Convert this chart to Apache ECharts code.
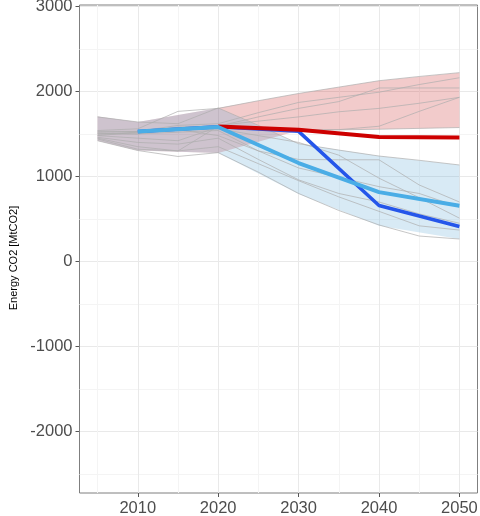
<!DOCTYPE html>
<html>
<head>
<meta charset="utf-8">
<script src="https://cdn.jsdelivr.net/npm/echarts@6/dist/echarts.min.js"></script>
<style>
  html, body { margin: 0; padding: 0; background: #fff; }
  #chart { width: 480px; height: 516px; }
</style>
</head>
<body>
<div id="chart"></div>
<script>
// axis ticks
const xTicks = [2010, 2020, 2030, 2040, 2050];
const xMinor = [2005, 2015, 2025, 2035, 2045];
const yTicks = [-2000, -1000, 0, 1000, 2000, 3000];
const yMinor = [-2500, -1500, -500, 500, 1500, 2500];

// scenario ranges (ribbons)
const ribbonYears = [2005, 2010, 2020, 2030, 2040, 2050];
const redLow = [1420, 1305, 1275, 1540, 1555, 1575];
const redHigh = [1705, 1640, 1805, 1975, 2125, 2220];
const blueLow = [1420, 1305, 1275, 795, 420, 265];
const blueHigh = [1705, 1640, 1805, 1385, 1240, 1135];

// individual scenarios (thin grey lines)
const years = [2005, 2010, 2015, 2020, 2025, 2030, 2035, 2040, 2045, 2050];
const greyLines = [
  [1540, 1560, 1765, 1800, 1890, 1975, 2050, 2125, 2175, 2220],
  [1520, 1530, 1600, 1620, 1750, 1870, 1930, 1990, 2080, 2160],
  [1500, 1500, 1560, 1600, 1650, 1700, 1760, 1800, 1860, 1930],
  [1480, 1520, 1580, 1590, 1700, 1800, 1880, 2040, 2040, 2040],
  [1480, 1450, 1420, 1580, 1565, 1545, 1550, 1590, 1765, 1930],
  [1440, 1320, 1300, 1590, 1560, 1540, 1548, 1555, 1565, 1575],
  [1420, 1305, 1235, 1280, 1050, 800, 600, 430, 300, 265],
  [1450, 1350, 1300, 1350, 1150, 950, 760, 590, 420, 370],
  [1500, 1520, 1540, 1560, 1480, 1400, 1250, 980, 750, 510],
  [1700, 1640, 1620, 1805, 1600, 1385, 1310, 1240, 1190, 1135],
  [1510, 1500, 1520, 1540, 1300, 1100, 990, 880, 800, 640],
  [1530, 1530, 1550, 1480, 1300, 1200, 1196, 1196, 900, 700],
  [1460, 1400, 1380, 1450, 1200, 960, 800, 700, 560, 450]
];

// highlighted scenarios
const redYears = [2020, 2030, 2040, 2050];
const redLine = [1588, 1549, 1463, 1459];
const blueYears = [2010, 2020, 2030, 2040, 2050];
const lightBlueLine = [1529, 1581, 1158, 816, 655];
const darkBlueLine = [1529, 1585, 1530, 659, 412];

const pairs = (xs, ys) => xs.map((x, i) => [x, ys[i]]);

const font = "'Liberation Sans', Arial, sans-serif";
const chart = echarts.init(document.getElementById("chart"), null, { renderer: "canvas" });

const series = [];

// ribbon = polygon between lower and upper bound, placed through the axes
function ribbon(lo, hi, color) {
  const rows = ribbonYears.map((x, i) => [x, lo[i], hi[i]]);
  series.push({
    type: "custom", silent: true, z: 1,
    data: rows,
    encode: { x: 0, y: [1, 2] },
    renderItem: (params, api) => {
      if (params.dataIndex !== 0) return;
      const pts = [];
      rows.forEach((r) => pts.push(api.coord([r[0], r[1]])));
      rows.slice().reverse().forEach((r) => pts.push(api.coord([r[0], r[2]])));
      return { type: "polygon", shape: { points: pts }, style: { fill: color } };
    }
  });
}
ribbon(redLow, redHigh, "rgba(200,30,30,0.23)");
ribbon(blueLow, blueHigh, "rgba(100,170,217,0.25)");

greyLines.forEach((g) => {
  series.push({
    type: "line", data: pairs(years, g), symbol: "none", silent: true, z: 2,
    lineStyle: { color: "#adadad", width: 0.7 }
  });
});

series.push({
  type: "line", data: pairs(blueYears, darkBlueLine), symbol: "none", z: 3,
  lineStyle: { color: "#2556ea", width: 3.5 }
});
series.push({
  type: "line", data: pairs(redYears, redLine), symbol: "none", z: 4,
  lineStyle: { color: "#cd0000", width: 4 }
});
series.push({
  type: "line", data: pairs(blueYears, lightBlueLine), symbol: "none", z: 5,
  lineStyle: { color: "#4aade6", width: 4 }
});

const labelStyle = { color: "#4d4d4d", fontSize: 16.5, fontFamily: font, formatter: (v) => String(v) };
const noLine = { show: false, onZero: false };
const xMin = 2002.75, xMax = 2052.25, yMin = -2720, yMax = 3015;

const option = {
  animation: false,
  grid: {
    left: 79.5, right: 2.5, top: 5, bottom: 23,
    show: true, borderColor: "#7f7f7f", borderWidth: 1,
    containLabel: false, outerBoundsMode: "none"
  },
  xAxis: [
    {
      type: "value", min: xMin, max: xMax, position: "bottom",
      axisLine: noLine,
      axisTick: { show: true, length: 4, customValues: xTicks, lineStyle: { color: "#555" } },
      axisLabel: { customValues: xTicks, margin: 7, ...labelStyle },
      splitLine: { show: true, lineStyle: { color: "#e9e9e9", width: 1 } }
    },
    {
      type: "value", min: xMin, max: xMax, position: "bottom",
      axisLine: noLine,
      axisTick: { show: false, customValues: xMinor },
      axisLabel: { show: false, customValues: xMinor },
      splitLine: { show: true, lineStyle: { color: "#f4f4f4", width: 1 } }
    }
  ],
  yAxis: [
    {
      type: "value", min: yMin, max: yMax, position: "left",
      name: "Energy CO2 [MtCO2]", nameLocation: "middle", nameRotate: 90, nameGap: 58,
      nameTextStyle: { color: "#000", fontSize: 11, fontFamily: font, padding: [0, 18, 0, 0] },
      axisLine: noLine,
      axisTick: { show: true, length: 4, customValues: yTicks, lineStyle: { color: "#555" } },
      axisLabel: { customValues: yTicks, margin: 7, ...labelStyle },
      splitLine: { show: true, lineStyle: { color: "#e9e9e9", width: 1 } }
    },
    {
      type: "value", min: yMin, max: yMax, position: "left",
      axisLine: noLine,
      axisTick: { show: false, customValues: yMinor },
      axisLabel: { show: false, customValues: yMinor },
      splitLine: { show: true, lineStyle: { color: "#f4f4f4", width: 1 } }
    }
  ],
  series: series
};

chart.setOption(option);
</script>
</body>
</html>
